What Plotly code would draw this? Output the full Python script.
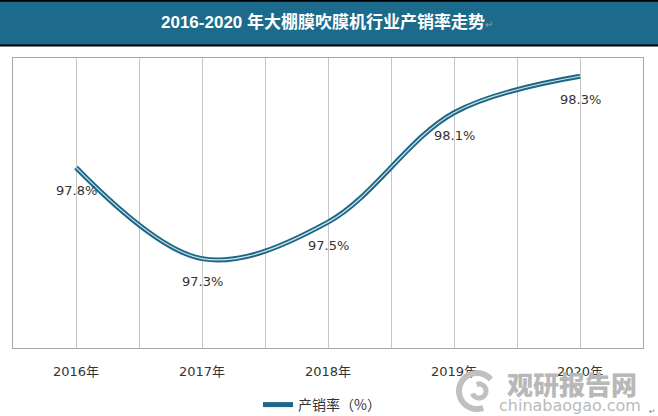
import numpy as np
import plotly.graph_objects as go

years = ["2016年", "2017年", "2018年", "2019年", "2020年"]
rate = [97.8, 97.3, 97.5, 98.1, 98.3]
labels = ["97.8%", "97.3%", "97.5%", "98.1%", "98.3%"]
series_name = "产销率（%）"
title_text = "2016-2020 年大棚膜吹膜机行业产销率走势"

W, H = 658, 416
L, R, T, B = 13, 643, 58, 348


def xp(px):
    return (px - L) / (R - L)


def yp(py):
    return (B - py) / (B - T)


xs = list(range(len(years)))
DARK = "#1d6786"

fig = go.Figure()
fig.add_trace(go.Scatter(
    x=xs, y=rate, mode="lines", name=series_name,
    line=dict(color=DARK, width=5, shape="spline", smoothing=1.0),
    hoverinfo="skip"))
fig.add_trace(go.Scatter(
    x=xs, y=rate, mode="lines", showlegend=False,
    line=dict(color="#cfe2ea", width=1.2, shape="spline", smoothing=1.0),
    hoverinfo="skip"))

for xi, v, t in zip(xs, rate, labels):
    fig.add_annotation(x=xi, y=v, text=t, showarrow=False, yshift=-23,
                       xanchor="center", yanchor="middle",
                       font=dict(family="DejaVu Sans", size=13, color="#333333"))

shapes = []
# title bar
shapes.append(dict(type="rect", xref="paper", yref="paper",
                   x0=xp(0), x1=xp(W), y0=yp(46), y1=yp(0),
                   fillcolor="#1c6b8c", line=dict(width=0), layer="below"))
shapes.append(dict(type="line", xref="paper", yref="paper",
                   x0=xp(0), x1=xp(W), y0=yp(0.8), y1=yp(0.8),
                   line=dict(color="black", width=2)))
shapes.append(dict(type="line", xref="paper", yref="paper",
                   x0=xp(0), x1=xp(W), y0=yp(45.5), y1=yp(45.5),
                   line=dict(color="black", width=2)))

# watermark logo swirl (decorative)
def arc_path(cx, cy, r, a0, a1, n=40):
    ang = np.radians(np.linspace(a0, a1, n))
    pts = [(xp(cx + r * np.cos(a)), yp(cy - r * np.sin(a))) for a in ang]
    return "M " + " L ".join(f"{a:.5f},{b:.5f}" for a, b in pts)

shapes.append(dict(type="path", xref="paper", yref="paper",
                   path=arc_path(477, 391, 18, 40, 290),
                   line=dict(color="#c0c0c0", width=6)))
shapes.append(dict(type="path", xref="paper", yref="paper",
                   path=arc_path(479, 391, 7, 200, 470),
                   line=dict(color="#c0c0c0", width=5)))

fig.add_annotation(xref="paper", yref="paper", x=xp(327), y=yp(22),
                   xanchor="center", yanchor="middle",
                   text=f"<b>{title_text}</b><span style='font-size:10px;color:#9a9a9a'>↵</span>",
                   showarrow=False,
                   font=dict(family="Liberation Sans, Noto Sans CJK SC", size=17, color="white"))
fig.add_annotation(xref="paper", yref="paper", x=xp(572), y=yp(383),
                   xanchor="center", yanchor="middle",
                   text="观研报告网", showarrow=False,
                   font=dict(family="Noto Sans CJK SC", size=26, color="#b8b8b8", weight=900))
fig.add_annotation(xref="paper", yref="paper", x=xp(570), y=yp(405),
                   xanchor="center", yanchor="middle",
                   text="chinabaogao.com", showarrow=False,
                   font=dict(family="DejaVu Sans", size=16, color="#bababa"))
fig.add_annotation(xref="paper", yref="paper", x=xp(652), y=yp(411),
                   xanchor="center", yanchor="middle",
                   text="↵", showarrow=False,
                   font=dict(family="DejaVu Sans", size=8, color="#888888"))

fig.update_layout(
    width=W, height=H,
    margin=dict(l=L, r=W - R, t=T, b=H - B, autoexpand=False),
    paper_bgcolor="white", plot_bgcolor="white",
    shapes=shapes,
    showlegend=True,
    legend=dict(orientation="h", x=xp(258), y=yp(405), xanchor="left", yanchor="middle",
                font=dict(family="Noto Sans CJK SC, DejaVu Sans", size=14, color="#333333"),
                bgcolor="rgba(0,0,0,0)"),
    xaxis=dict(range=[-0.5, len(years) - 0.5], tickvals=xs, ticktext=years,
               showgrid=True, gridcolor="#c6c6c6", gridwidth=1,
               minor=dict(dtick=0.5, tick0=-0.5, showgrid=True, gridcolor="#c6c6c6", gridwidth=1),
               ticks="outside", ticklen=11, tickcolor="rgba(0,0,0,0)",
               showline=True, linecolor="#a8a8a8", linewidth=1, mirror=True,
               zeroline=False,
               tickfont=dict(family="DejaVu Sans, Noto Sans CJK SC", size=13, color="#333333")),
    yaxis=dict(range=[96.81, 98.40], showticklabels=False, showgrid=False, zeroline=False,
               ticks="", showline=True, linecolor="#a8a8a8", linewidth=1, mirror=True),
)

fig.write_html("out.html")
